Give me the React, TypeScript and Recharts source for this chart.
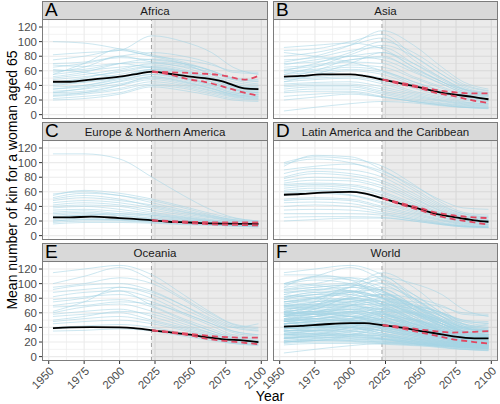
import React from 'react';
import { LineChart, Line, XAxis, YAxis, CartesianGrid, ReferenceArea, ReferenceLine } from 'recharts';

const LINE_YEARS = [1953, 1975, 2000, 2023, 2045, 2065, 2080, 2098];
const MEAN_YEARS = [1953, 1965, 1980, 2000, 2010, 2023, 2035, 2050, 2060, 2072, 2088, 2098];
const PI_YEARS = [2023, 2035, 2050, 2060, 2072, 2088, 2098];

const X_TICKS = [1950, 1975, 2000, 2025, 2050, 2075, 2100];
const X_MINOR = [1962.5, 1987.5, 2012.5, 2037.5, 2062.5, 2087.5];
const Y_TICKS = [0, 20, 40, 60, 80, 100, 120];
const Y_MINOR = [10, 30, 50, 70, 90, 110, 130];
const PROJ_START = 2022.5;

const REGIONS = ['Africa', 'Asia', 'Europe & Northern America', 'Latin America and the Caribbean', 'Oceania', 'World'];
const LETTERS = ['A', 'B', 'C', 'D', 'E', 'F'];

const AFRICA_LINES = [
  [100, 98, 90, 80, 70, 55, 45, 40],
  [82, 85, 88, 108, 100, 85, 65, 55],
  [70, 72, 80, 85, 80, 70, 58, 56],
  [65, 70, 78, 75, 70, 60, 50, 45],
  [60, 62, 70, 72, 68, 55, 42, 38],
  [55, 60, 65, 68, 62, 50, 40, 35],
  [50, 55, 62, 70, 65, 52, 40, 34],
  [48, 52, 58, 65, 58, 45, 35, 30],
  [45, 48, 55, 62, 55, 45, 36, 32],
  [42, 45, 52, 60, 52, 42, 34, 30],
  [40, 44, 50, 58, 50, 40, 32, 28],
  [38, 40, 48, 55, 48, 38, 30, 27],
  [35, 38, 45, 52, 45, 36, 28, 25],
  [32, 35, 42, 50, 44, 35, 27, 24],
  [30, 32, 40, 48, 42, 33, 26, 23],
  [28, 30, 36, 45, 40, 32, 25, 22],
  [25, 28, 34, 42, 38, 30, 24, 21],
  [22, 25, 30, 40, 36, 28, 22, 20],
  [20, 22, 28, 38, 33, 26, 20, 18],
  [75, 80, 88, 80, 75, 68, 60, 58],
  [58, 65, 80, 72, 66, 58, 48, 46],
  [52, 58, 70, 76, 70, 60, 50, 48],
  [35, 40, 50, 62, 58, 48, 38, 36],
  [62, 58, 52, 58, 50, 42, 34, 30],
  [44, 50, 60, 66, 60, 48, 38, 33],
  [30, 36, 46, 55, 50, 40, 30, 27],
  [68, 66, 70, 64, 60, 50, 40, 36],
  [26, 30, 40, 52, 46, 36, 28, 25],
  [55, 70, 90, 82, 72, 60, 48, 42],
];

const ASIA_LINES = [
  [92, 95, 98, 90, 65, 45, 35, 30],
  [88, 90, 100, 110, 80, 55, 40, 32],
  [80, 85, 95, 105, 75, 50, 35, 28],
  [75, 78, 88, 92, 70, 48, 34, 27],
  [70, 72, 80, 85, 65, 45, 32, 26],
  [65, 68, 75, 80, 60, 42, 30, 24],
  [62, 66, 72, 70, 52, 38, 28, 22],
  [60, 62, 68, 65, 50, 36, 27, 22],
  [58, 60, 65, 60, 45, 33, 25, 20],
  [55, 58, 62, 58, 42, 30, 23, 19],
  [52, 55, 60, 55, 40, 28, 22, 18],
  [50, 52, 55, 50, 36, 26, 20, 17],
  [48, 50, 52, 45, 32, 24, 18, 15],
  [45, 48, 50, 42, 30, 22, 17, 15],
  [42, 44, 45, 38, 28, 20, 16, 14],
  [40, 42, 42, 35, 26, 19, 15, 13],
  [38, 40, 40, 32, 24, 18, 14, 12],
  [35, 38, 38, 30, 22, 16, 13, 11],
  [32, 35, 35, 28, 20, 15, 12, 10],
  [30, 32, 32, 25, 18, 14, 11, 9],
  [25, 28, 30, 24, 18, 13, 10, 9],
  [20, 24, 28, 24, 18, 13, 10, 8],
  [5, 10, 15, 18, 16, 12, 10, 9],
  [72, 80, 95, 115, 95, 65, 45, 35],
  [60, 70, 85, 100, 85, 60, 42, 33],
  [55, 65, 82, 95, 80, 55, 38, 30],
  [45, 55, 70, 85, 70, 50, 36, 28],
  [68, 75, 80, 75, 58, 42, 30, 25],
  [85, 80, 72, 60, 45, 32, 25, 20],
  [50, 60, 75, 78, 62, 45, 32, 26],
];

const EUROPE_LINES = [
  [112, 112, 105, 80, 55, 35, 25, 20],
  [57, 60, 55, 48, 38, 28, 22, 20],
  [55, 62, 58, 50, 40, 30, 24, 20],
  [52, 58, 55, 45, 35, 27, 22, 19],
  [50, 55, 50, 40, 32, 25, 20, 18],
  [48, 52, 48, 42, 33, 26, 21, 18],
  [45, 48, 45, 38, 30, 24, 20, 17],
  [42, 45, 42, 35, 28, 22, 19, 17],
  [40, 42, 40, 32, 26, 21, 18, 16],
  [38, 40, 36, 30, 25, 20, 17, 16],
  [35, 36, 33, 28, 23, 19, 17, 15],
  [32, 34, 30, 26, 22, 18, 16, 15],
  [30, 32, 28, 24, 21, 18, 16, 15],
  [28, 30, 27, 23, 20, 17, 15, 14],
  [26, 28, 25, 22, 19, 17, 15, 14],
  [24, 26, 24, 21, 18, 16, 15, 14],
  [22, 24, 22, 20, 18, 16, 14, 13],
  [20, 22, 21, 19, 17, 15, 14, 13],
  [18, 20, 20, 18, 16, 15, 14, 13],
  [16, 18, 18, 17, 15, 14, 13, 12],
  [25, 28, 30, 28, 24, 20, 17, 16],
  [20, 22, 22, 20, 17, 15, 13, 12],
];

const LATAM_LINES = [
  [100, 108, 105, 95, 70, 45, 32, 28],
  [98, 105, 100, 85, 62, 40, 30, 25],
  [95, 110, 108, 90, 65, 42, 30, 26],
  [90, 95, 98, 88, 68, 48, 38, 36],
  [85, 92, 90, 80, 58, 38, 28, 24],
  [80, 88, 85, 75, 55, 36, 27, 22],
  [78, 85, 82, 72, 52, 34, 26, 21],
  [75, 80, 78, 68, 50, 33, 25, 20],
  [72, 76, 75, 65, 47, 31, 24, 20],
  [70, 72, 70, 60, 44, 30, 23, 19],
  [68, 70, 68, 58, 42, 29, 22, 18],
  [65, 68, 65, 55, 40, 28, 21, 18],
  [62, 65, 62, 52, 38, 26, 20, 17],
  [60, 62, 60, 50, 36, 25, 19, 16],
  [58, 60, 56, 46, 34, 24, 18, 15],
  [55, 58, 55, 44, 32, 22, 17, 15],
  [50, 52, 50, 40, 30, 21, 16, 14],
  [48, 50, 48, 38, 28, 20, 15, 13],
  [45, 46, 44, 35, 26, 18, 14, 12],
  [40, 42, 40, 32, 24, 17, 13, 12],
  [35, 36, 35, 30, 22, 16, 13, 11],
  [30, 30, 30, 28, 22, 16, 13, 12],
  [25, 26, 26, 25, 20, 15, 12, 11],
  [20, 22, 24, 24, 20, 15, 12, 11],
];

const OCEANIA_LINES = [
  [115, 120, 125, 112, 85, 60, 45, 40],
  [100, 110, 122, 105, 80, 58, 44, 38],
  [95, 100, 108, 100, 78, 55, 42, 36],
  [92, 98, 100, 90, 70, 50, 40, 45],
  [88, 92, 95, 85, 65, 48, 35, 30],
  [82, 88, 90, 80, 60, 45, 33, 28],
  [78, 82, 85, 75, 58, 42, 30, 26],
  [75, 80, 90, 70, 52, 38, 28, 24],
  [70, 75, 78, 68, 50, 35, 26, 22],
  [60, 68, 72, 62, 48, 35, 26, 22],
  [58, 62, 65, 55, 42, 32, 24, 20],
  [55, 58, 60, 50, 40, 30, 23, 20],
  [50, 55, 62, 58, 45, 32, 24, 20],
  [48, 52, 55, 48, 38, 28, 22, 19],
  [45, 48, 50, 45, 36, 27, 20, 18],
  [40, 42, 44, 40, 32, 25, 19, 17],
  [38, 40, 40, 36, 30, 24, 18, 16],
  [35, 36, 38, 35, 28, 22, 18, 15],
  [62, 75, 95, 88, 70, 52, 40, 35],
  [68, 70, 75, 72, 60, 45, 35, 30],
];

const WORLD_LINES = [...AFRICA_LINES, ...ASIA_LINES, ...EUROPE_LINES, ...LATAM_LINES, ...OCEANIA_LINES];

const MEANS = [
  [45, 45, 48, 52, 55, 59, 56, 52, 50, 46, 36, 35],
  [52, 53, 55, 55, 53, 48, 43, 37, 32, 28, 24, 21],
  [25, 25, 26, 24, 23, 21, 19, 18, 17, 16.5, 16, 16],
  [56, 57, 59, 60, 58, 51, 44, 36, 30, 26, 21, 19],
  [39, 40, 40.5, 40, 39, 36, 33.5, 30, 27, 24, 22, 20],
  [41, 42, 44, 46, 46, 43, 40, 35, 32, 28, 25, 25],
];

const UPPERS = [
  [59, 58, 57, 56, 54, 48, 53],
  [48, 44, 38, 34, 31, 29, 29],
  [21, 20, 19, 18.5, 18, 18, 18],
  [51, 45, 37.5, 32, 28, 25, 24],
  [36, 34, 31, 29, 27, 26, 26],
  [43, 41, 37, 35, 33, 34, 35],
];

const LOWERS = [
  [59, 55, 48, 45, 39, 30, 26],
  [48, 42, 36, 30, 26, 19, 16],
  [21, 19, 17, 16, 15, 14.5, 14],
  [51, 43, 34.5, 28, 23, 18, 15],
  [36, 33, 29, 25, 22, 19, 17],
  [43, 39, 33, 29, 24, 20, 18],
];

const PANEL_LINES = [AFRICA_LINES, ASIA_LINES, EUROPE_LINES, LATAM_LINES, OCEANIA_LINES, WORLD_LINES];

function buildTable(lines: number[][], mean: number[], upper: number[], lower: number[]) {
  const years = Array.from(new Set([...LINE_YEARS, ...MEAN_YEARS, ...PI_YEARS])).sort((a, b) => a - b);
  return years.map((y) => {
    const row: any = { year: y };
    const li = LINE_YEARS.indexOf(y);
    if (li >= 0) lines.forEach((l, i) => { row['c' + i] = l[li]; });
    const mi = MEAN_YEARS.indexOf(y);
    if (mi >= 0) row.mean = mean[mi];
    const pi = PI_YEARS.indexOf(y);
    if (pi >= 0) { row.upper = upper[pi]; row.lower = lower[pi]; }
    return row;
  });
}

const FONT = '"Liberation Sans", Arial, Helvetica, sans-serif';
const PLOT_H = 100;
const STRIP_H = 18;
const ROW_TOPS = [19, 140, 261];
const COL_LEFTS = [42, 273];
const COL_WIDTHS = [226, 225];
const BORDER = '#7c7c7c';
const PAD = 10;

function Panel({ idx }: { idx: number }) {
  const col = idx % 2;
  const row = Math.floor(idx / 2);
  const bottom = row === 2;
  const lines = PANEL_LINES[idx];
  const data = buildTable(lines, MEANS[idx], UPPERS[idx], LOWERS[idx]);
  const plotLeft = COL_LEFTS[col];
  const plotW = COL_WIDTHS[col];
  const top = ROW_TOPS[row];
  const leftPad = col === 0 ? 0 : 30;
  const chartLeft = col === 0 ? 0 : plotLeft - leftPad;
  const chartW = col === 0 ? plotLeft + plotW + 2 : plotW + 2 + leftPad;
  const xAxisH = bottom ? 45 : 0;
  const chartH = PLOT_H + xAxisH + PAD + (bottom ? 0 : PAD);
  return (
    <>
      <div style={{ position: 'absolute', left: chartLeft, top: top - PAD, width: chartW, height: chartH }}>
        <LineChart width={chartW} height={chartH} data={data} margin={{ top: PAD, right: 2, bottom: bottom ? 0 : PAD, left: leftPad }}>
          <CartesianGrid horizontalValues={Y_MINOR} verticalValues={X_MINOR} stroke="#ebebeb" strokeWidth={0.6} />
          <CartesianGrid horizontalValues={Y_TICKS} verticalValues={X_TICKS} stroke="#ebebeb" strokeWidth={1.1} />
          <XAxis
            type="number"
            dataKey="year"
            domain={[1945.25, 2104.75]}
            ticks={X_TICKS}
            allowDataOverflow
            hide={!bottom}
            height={xAxisH}
            axisLine={false}
            tickSize={3}
            tickLine={{ stroke: '#333333' }}
            angle={-45}
            textAnchor="end"
            tick={{ fill: '#4d4d4d', fontSize: 11.5, fontFamily: FONT }}
            interval={0}
          />
          <YAxis
            type="number"
            domain={[-6, 131]}
            ticks={Y_TICKS}
            allowDataOverflow
            hide={col !== 0}
            width={col === 0 ? 42 : 0}
            axisLine={false}
            tickSize={3}
            tickLine={{ stroke: '#333333' }}
            tick={{ fill: '#4d4d4d', fontSize: 11.5, fontFamily: FONT }}
            interval={0}
          />
          <ReferenceArea x1={PROJ_START} x2={2104.75} y1={-6} y2={131} fill="#000000" fillOpacity={0.08} stroke="none" ifOverflow="hidden" />
          <ReferenceLine x={PROJ_START} stroke="#a3a3a3" strokeDasharray="4 3" strokeWidth={1} />
          {lines.map((_, i) => (
            <Line
              key={'c' + i}
              dataKey={'c' + i}
              type="monotone"
              stroke="#a6d4e4"
              strokeOpacity={0.7}
              strokeWidth={0.8}
              dot={false}
              activeDot={false}
              connectNulls
              isAnimationActive={false}
            />
          ))}
          <Line dataKey="mean" type="monotone" stroke="#000000" strokeWidth={1.8} dot={false} activeDot={false} connectNulls isAnimationActive={false} />
          <Line dataKey="upper" type="monotone" stroke="#e04862" strokeWidth={1.8} strokeDasharray="6 4" dot={false} activeDot={false} connectNulls isAnimationActive={false} />
          <Line dataKey="lower" type="monotone" stroke="#e04862" strokeWidth={1.8} strokeDasharray="6 4" dot={false} activeDot={false} connectNulls isAnimationActive={false} />
        </LineChart>
      </div>
      <div style={{ position: 'absolute', left: plotLeft, top, width: plotW, height: PLOT_H, border: `1px solid ${BORDER}`, boxSizing: 'border-box', pointerEvents: 'none' }} />
      <div style={{ position: 'absolute', left: plotLeft, top: top - STRIP_H, width: plotW, height: STRIP_H + 1, background: '#d9d9d9', border: `1px solid ${BORDER}`, boxSizing: 'border-box' }}>
        <div style={{ position: 'absolute', left: 0, right: 0, top: 0, bottom: 0, display: 'flex', alignItems: 'center', justifyContent: 'center', fontSize: 11.5, color: '#1a1a1a', fontFamily: FONT }}>
          {REGIONS[idx]}
        </div>
        <div style={{ position: 'absolute', left: 2, top: -3, fontSize: 19, color: '#000', fontFamily: FONT, lineHeight: '22px' }}>
          {LETTERS[idx]}
        </div>
      </div>
    </>
  );
}

export default function App() {
  return (
    <div style={{ position: 'absolute', left: 0, top: 0, width: 500, height: 404, background: '#ffffff', overflow: 'hidden', fontFamily: FONT }}>
      {[0, 1, 2, 3, 4, 5].map((i) => <Panel key={i} idx={i} />)}
      <div style={{ position: 'absolute', left: 12, top: 180, width: 0, height: 0 }}>
        <div style={{ position: 'absolute', transform: 'translate(-50%, -50%) rotate(-90deg)', whiteSpace: 'nowrap', fontSize: 14, color: '#000', fontFamily: FONT }}>
          Mean number of kin for a woman aged 65
        </div>
      </div>
      <div style={{ position: 'absolute', left: 270, top: 396, width: 0, height: 0 }}>
        <div style={{ position: 'absolute', transform: 'translate(-50%, -50%)', whiteSpace: 'nowrap', fontSize: 14, color: '#000', fontFamily: FONT }}>
          Year
        </div>
      </div>
    </div>
  );
}
